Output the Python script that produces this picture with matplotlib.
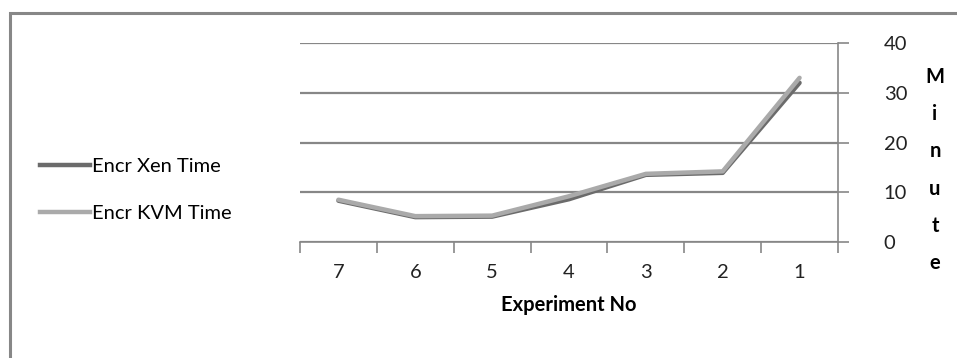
import matplotlib
matplotlib.use("Agg")
import matplotlib.pyplot as plt
from matplotlib.patches import Rectangle
from matplotlib.lines import Line2D

categories = ["7", "6", "5", "4", "3", "2", "1"]
xen_time = [8.3, 5.0, 5.1, 8.6, 13.5, 13.9, 32.0]
kvm_time = [8.5, 5.2, 5.3, 9.2, 13.7, 14.2, 33.0]
series_names = ["Encr Xen Time", "Encr KVM Time"]
yticks = [0, 10, 20, 30, 40]

W, H = 957, 358
fig = plt.figure(figsize=(W / 100, H / 100), dpi=100)
fig.patch.set_facecolor("white")
plt.rcParams["font.family"] = ["Lato", "DejaVu Sans"]

# outer border (left & top visible)
fig.patches.append(Rectangle((10 / W, -0.1), 1.2, (H - 12.5) / H + 0.1, transform=fig.transFigure,
                             fill=False, edgecolor="#878787", linewidth=2.2))

ax = fig.add_axes([300 / W, 1 - 242 / H, (838 - 300) / W, (242 - 43) / H])
ax.set_facecolor("none")
x = list(range(len(categories)))
ax.plot(x, xen_time, color="#6b6b6b", linewidth=3.2, solid_capstyle="round", zorder=3)
ax.plot(x, kvm_time, color="#aaaaaa", linewidth=3.2, solid_capstyle="round", zorder=4)

ax.set_xlim(-0.5, len(categories) - 0.5)
ax.set_ylim(0, 40)
for s in ["top", "left"]:
    ax.spines[s].set_visible(False)
ax.spines["bottom"].set_color("#878787")
ax.spines["right"].set_color("#878787")
ax.spines["bottom"].set_linewidth(1.2)
ax.spines["right"].set_linewidth(1.2)

ax.yaxis.tick_right()
ax.set_yticks(yticks)
ax.set_yticklabels([str(v) for v in yticks], fontsize=14.5, color="#222222")
ax.tick_params(axis="y", length=8, width=1.2, color="#878787", pad=25)
for lbl in ax.get_yticklabels():
    lbl.set_horizontalalignment("left")
ax.yaxis.grid(True, color="#878787", linewidth=1.6)
ax.set_axisbelow(True)

ax.set_xticks(x)
ax.set_xticklabels(categories, fontsize=14.5, color="#222222")
ax.set_xticks([i - 0.5 for i in range(len(categories) + 1)], minor=True)
ax.tick_params(axis="x", which="major", length=0, pad=16)
ax.tick_params(axis="x", which="minor", length=8, width=1.2, color="#878787")
ax.set_xlabel("Experiment No", fontsize=14.5, fontweight="bold", labelpad=10)

# vertical "Minute" label
fig.text(935 / W, 1 - 170 / H, "\n".join("Minute"), ha="center", va="center",
         fontsize=14.5, fontweight="bold", linespacing=2.08)

# legend
handles = [Line2D([], [], color="#6b6b6b", linewidth=3.2),
           Line2D([], [], color="#aaaaaa", linewidth=3.2)]
fig.legend(handles, series_names, loc="center left", bbox_to_anchor=(22 / W, 1 - 190 / H),
           frameon=False, fontsize=14.5, handlelength=2.5, handletextpad=0.1, labelspacing=1.5)

fig.savefig("out.png", dpi=100, facecolor="white")
